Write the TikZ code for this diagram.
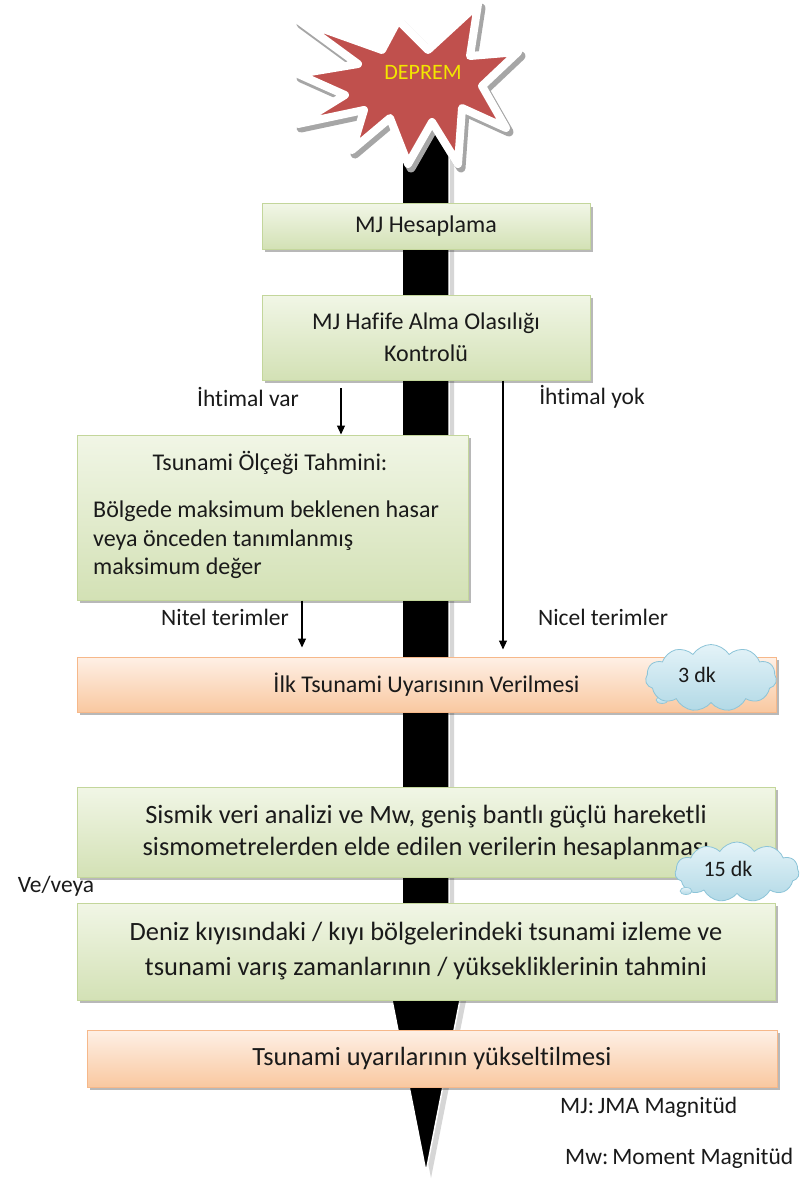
\documentclass[tikz,border=0pt]{standalone}
\usepackage{fontspec}
\setmainfont{Carlito}[Ligatures=NoCommon]
\usetikzlibrary{shapes.symbols,shapes.geometric,shadows,arrows.meta,calc}

\definecolor{starred}{HTML}{C0504D}
\definecolor{startext}{HTML}{F2E600}
\definecolor{grtop}{HTML}{F1F6E6}
\definecolor{grbot}{HTML}{D3E1B5}
\definecolor{grline}{HTML}{C3D69B}
\definecolor{ortop}{HTML}{FEF0E6}
\definecolor{orbot}{HTML}{F9C8A0}
\definecolor{orline}{HTML}{F6B88A}
\definecolor{cltop}{HTML}{E4F3F8}
\definecolor{clbot}{HTML}{B2D9E6}
\definecolor{clline}{HTML}{8CC4D8}
\definecolor{txt}{HTML}{1A1A1A}

\begin{document}
\begin{tikzpicture}[x=1pt,y=-1pt,
  boxshadow/.style={drop shadow={shadow xshift=3pt,shadow yshift=-3pt,fill=black,opacity=0.28}},
  greenbox/.style={rectangle, draw=grline, line width=1pt, top color=grtop, bottom color=grbot,
    boxshadow, inner sep=0pt, text=txt, align=center},
  orangebox/.style={rectangle, draw=orline, line width=1pt, top color=ortop, bottom color=orbot,
    boxshadow, inner sep=0pt, text=txt, align=center},
  cloudbox/.style={cloud, cloud puffs=11, cloud puff arc=115, aspect=2, draw=clline, line width=0.8pt,
    top color=cltop, bottom color=clbot, inner sep=0pt, text=txt,
    font=\fontsize{22}{26}\selectfont},
  bubble/.style={ellipse, draw=clline, line width=0.6pt, top color=cltop, bottom color=clbot, inner sep=0pt},
  lbl/.style={inner sep=0pt, text=txt, font=\fontsize{23.5}{28}\selectfont},
  arr/.style={-{Triangle[length=9pt,width=8pt]}, line width=1.1pt, draw=black}
]
\fill[white] (0,0) rectangle (800,1198);
\useasboundingbox (0,0) rectangle (800,1198);

% the long black arrow running through the whole process
\begin{scope}[shift={(5,6)}]
  \fill[black!16] (402,110) -- (449,110) -- (449,990) -- (462,990) -- (426,1172) -- (390,990) -- (402,990) -- cycle;
\end{scope}
\filldraw[fill=black, draw=white, line width=1.5pt]
  (402,110) -- (449,110) -- (449,990) -- (462,990) -- (426,1172) -- (390,990) -- (402,990) -- cycle;

% earthquake burst
\def\burst{(298,20) -- (382,50) -- (398,20) -- (428,50) -- (478,4) -- (470,56) -- (518,52) -- (482,86)
  -- (506,128) -- (462,108) -- (458,164) -- (432,122) -- (408,164) -- (390,118) -- (352,150)
  -- (364,110) -- (298,124) -- (345,95) -- (298,74) -- (358,64) -- cycle}
\begin{scope}[shift={(3,4)}]
  \filldraw[fill=black!35, draw=black!35, line width=9pt, line join=round] \burst;
\end{scope}
\filldraw[fill=starred, draw=white, line width=8pt, line join=round] \burst;
\node[inner sep=0pt, text=startext, font=\fontsize{22}{26}\selectfont] (deprem) at (423,72) {DEPREM};

% process boxes
\node[greenbox, minimum width=328pt, minimum height=45pt, font=\fontsize{24}{28}\selectfont]
  (mjh) at (426,226.5) {MJ Hesaplama};
\node[greenbox, minimum width=328pt, minimum height=85pt, font=\fontsize{24}{32}\selectfont]
  (haf) at (426,337.5) {MJ Hafife Alma Olasılığı\\Kontrolü};
\node[greenbox, minimum width=391pt, minimum height=165pt] (tsb) at (272.5,517.5) {};
\node[lbl, font=\fontsize{24}{28}\selectfont] (tstitle) at (270,463) {Tsunami Ölçeği Tahmini:};
\node[lbl, anchor=west, align=left, font=\fontsize{24}{28.5}\selectfont] (tsbody) at (93,540)
  {Bölgede maksimum beklenen hasar\\veya önceden tanımlanmış\\maksimum değer};
\node[orangebox, minimum width=699pt, minimum height=55pt, font=\fontsize{24}{28}\selectfont]
  (ilk) at (426.5,684.5) {İlk Tsunami Uyarısının Verilmesi};
\node[greenbox, minimum width=698pt, minimum height=90pt, font=\fontsize{26.4}{32}\selectfont]
  (sis) at (426,832) {Sismik veri analizi ve Mw, geniş bantlı güçlü hareketli\\sismometrelerden elde edilen verilerin hesaplanması};
\node[greenbox, minimum width=698pt, minimum height=97pt, font=\fontsize{26.4}{35}\selectfont]
  (den) at (426,951.5) {Deniz kıyısındaki / kıyı bölgelerindeki tsunami izleme ve\\tsunami varış zamanlarının / yüksekliklerinin tahmini};
\node[orangebox, minimum width=690pt, minimum height=57pt, font=\fontsize{26.3}{30}\selectfont]
  (tuy) at (432,1058.5) {Tsunami uyarılarının yükseltilmesi};

% time clouds
\node[bubble, minimum width=12pt, minimum height=7pt] (b3) at (662,700) {};
\node[cloudbox, minimum width=131pt, minimum height=67pt] (c3) at (711,678) {};
\node[inner sep=0pt, text=txt, font=\fontsize{22}{26}\selectfont] (t3) at (697,675) {3 dk};
\node[cloudbox, minimum width=124pt, minimum height=60pt] (c15) at (737,872) {};
\node[bubble, minimum width=12pt, minimum height=7pt] (b15) at (686,891) {};
\node[inner sep=0pt, text=txt, font=\fontsize{22}{26}\selectfont] (t15) at (728,869) {15 dk};

% branch labels
\node[lbl] (ivar) at (248,397) {İhtimal var};
\node[lbl] (iyok) at (592,397) {İhtimal yok};
\node[lbl] (nitel) at (225,617) {Nitel terimler};
\node[lbl] (nicel) at (603,617) {Nicel terimler};
\node[lbl] (veveya) at (56,886) {Ve/veya};
\node[lbl, anchor=west] (mjleg) at (560,1107) {MJ:\,JMA Magnitüd};
\node[lbl, anchor=west] (mwleg) at (565,1158) {Mw:\,Moment Magnitüd};

% branch arrows
\coordinate (varx) at (341,388);
\coordinate (yokx) at (503,0);
\coordinate (nitx) at (302,0);
\draw[arr] (varx) -- (varx |- tsb.north);
\draw[arr, shorten >=7pt] (haf.south -| yokx) -- (ilk.north -| yokx);
\draw[arr, shorten >=9pt] (tsb.south -| nitx) -- (ilk.north -| nitx);
\end{tikzpicture}
\end{document}
